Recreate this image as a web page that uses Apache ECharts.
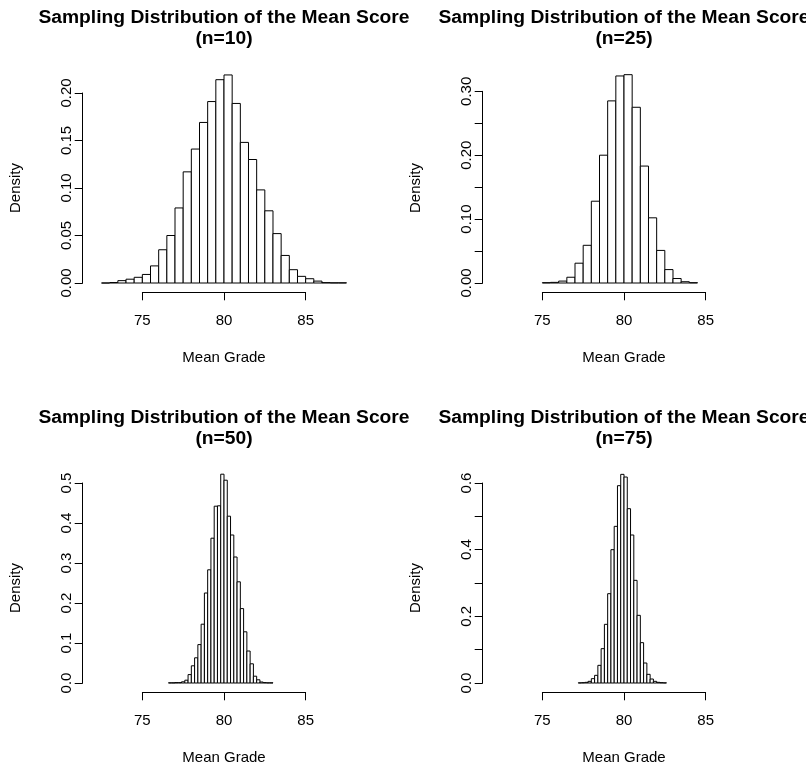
<!DOCTYPE html>
<html><head><meta charset="utf-8">
<script src="https://cdn.jsdelivr.net/npm/echarts@6/dist/echarts.min.js"></script>
<style>html,body{margin:0;padding:0;background:#fff}#c{width:806px;height:765px}</style>
</head><body><div id="c"></div>
<script>
// ---------------- data ----------------
const sampleSizes = [10, 25, 50, 75];
const binStart = [72.5, 75.0, 76.6, 77.2];
const binWidth = [0.5, 0.5, 0.2, 0.2];
const density10 = [0, 0.0005, 0.0025, 0.004, 0.006, 0.009, 0.018, 0.035, 0.050, 0.079, 0.117, 0.141, 0.169, 0.191, 0.214, 0.219, 0.189, 0.148, 0.130, 0.098, 0.076, 0.052, 0.029, 0.014, 0.007, 0.0045, 0.002, 0.0004, 0.0002, 0.0002];
const density25 = [0.0005, 0.001, 0.003, 0.009, 0.031, 0.059, 0.128, 0.200, 0.285, 0.324, 0.326, 0.275, 0.183, 0.102, 0.051, 0.021, 0.007, 0.002, 0.0005];
const density50 = [0.0005, 0.0005, 0.001, 0.001, 0.003, 0.007, 0.021, 0.043, 0.063, 0.096, 0.147, 0.225, 0.283, 0.362, 0.442, 0.443, 0.522, 0.507, 0.417, 0.370, 0.315, 0.253, 0.186, 0.128, 0.080, 0.048, 0.017, 0.008, 0.0025, 0.001, 0.0005, 0.0005];
const density75 = [0.0005, 0.001, 0.002, 0.005, 0.013, 0.023, 0.053, 0.103, 0.176, 0.268, 0.40, 0.47, 0.592, 0.626, 0.618, 0.523, 0.444, 0.308, 0.203, 0.121, 0.06, 0.026, 0.012, 0.005, 0.002, 0.001, 0.0005];
const densities = [density10, density25, density50, density75];
const xTicks = [75, 80, 85];
const yTickMax = [0.20, 0.30, 0.5, 0.6];
const yTickStep = [0.05, 0.05, 0.1, 0.1];
const yTickLabels10 = ['0.00', '0.05', '0.10', '0.15', '0.20'];
const yTickLabels25 = ['0.00', '0.10', '0.20', '0.30'];
const yTickLabels50 = ['0.0', '0.1', '0.2', '0.3', '0.4', '0.5'];
const yTickLabels75 = ['0.0', '0.2', '0.4', '0.6'];
const yTickLabels = [yTickLabels10, yTickLabels25, yTickLabels50, yTickLabels75];
const titleText = 'Sampling Distribution of the Mean Score';
const xName = 'Mean Grade';
const yName = 'Density';

// ---------------- layout ----------------
const FONT = '"Liberation Sans", Arial, Helvetica, sans-serif';
const XS = 16.33;          // px per grade unit
const X80 = 224;           // px of grade 80 in left column
const COL_DX = [0, 400, 0, 400];
const ROW_DY = [0, 0, 400, 400];
const Y0 = 283;            // px of density 0 (top row)
const AXIS_X = 82.7;       // y-axis line (left column)
const AXIS_Y = 292.3;      // x-axis line (top row)
const Y_PPU = [950, 639, 400, 333.3];
const GRID_W = 282.6;

function renderItem(params, api) {
  const x0 = api.value(0), w = api.value(1), h = api.value(2);
  const p0 = api.coord([x0, h]);
  const p1 = api.coord([x0 + w, 0]);
  return {
    type: 'rect',
    shape: { x: p0[0], y: p0[1], width: p1[0] - p0[0], height: p1[1] - p0[1] },
    style: { fill: '#ffffff', stroke: '#000000', lineWidth: 1 }
  };
}

const grids = [], xAxes = [], yAxes = [], series = [], graphics = [];
const axisLineStyle = { show: true, onZero: false, lineStyle: { color: '#000', width: 1 } };
const axisTickStyle = { show: true, length: 8, lineStyle: { color: '#000', width: 1 } };

for (let p = 0; p < 4; p++) {
  const dx = COL_DX[p], dy = ROW_DY[p];
  const ppu = Y_PPU[p], yMax = yTickMax[p];
  const labels = yTickLabels[p];
  const dec = labels[0].split('.')[1].length;
  grids.push({ left: AXIS_X + dx, top: Y0 + dy - yMax * ppu, width: GRID_W, height: yMax * ppu, containLabel: false, outerBoundsMode: 'none' });
  const xMin = 80 - (X80 - AXIS_X) / XS;
  xAxes.push({ gridIndex: 2 * p, type: 'value', min: xMin, max: xMin + GRID_W / XS, show: false });
  yAxes.push({
    gridIndex: 2 * p, type: 'value', min: 0, max: yMax, interval: yTickStep[p], position: 'left',
    axisLine: axisLineStyle, axisTick: axisTickStyle, splitLine: { show: false },
    axisLabel: {
      show: true, rotate: 90, margin: 8, fontSize: 15, fontFamily: FONT, color: '#000',
      showMinLabel: true, showMaxLabel: true,
      formatter: v => { const s = (+v).toFixed(dec); return labels.indexOf(s) >= 0 ? s : ''; }
    }
  });
  grids.push({ left: X80 + (xTicks[0] - 80) * XS + dx, width: (xTicks[2] - xTicks[0]) * XS, top: AXIS_Y + dy - 10, height: 10, containLabel: false, outerBoundsMode: 'none' });
  xAxes.push({
    gridIndex: 2 * p + 1, type: 'value', min: xTicks[0], max: xTicks[2], interval: xTicks[1] - xTicks[0], position: 'bottom',
    axisLine: axisLineStyle, axisTick: axisTickStyle, splitLine: { show: false },
    axisLabel: { show: true, margin: 21, fontSize: 15, fontFamily: FONT, color: '#000', showMinLabel: true, showMaxLabel: true }
  });
  yAxes.push({ gridIndex: 2 * p + 1, type: 'value', min: 0, max: 1, show: false });

  const data = densities[p].map((d, i) => [binStart[p] + i * binWidth[p], binWidth[p], d]);
  series.push({ type: 'custom', xAxisIndex: 2 * p, yAxisIndex: 2 * p, renderItem, data, clip: false, silent: true, animation: false });

  graphics.push({ type: 'text', x: X80 + dx, y: 18 + dy, silent: true,
    style: { text: titleText, font: 'bold 19.25px ' + FONT, textAlign: 'center', textVerticalAlign: 'middle', fill: '#000' } });
  graphics.push({ type: 'text', x: X80 + dx, y: 39 + dy, silent: true,
    style: { text: '(n=' + sampleSizes[p] + ')', font: 'bold 19.25px ' + FONT, textAlign: 'center', textVerticalAlign: 'middle', fill: '#000' } });
  graphics.push({ type: 'text', x: X80 + dx, y: 358 + dy, silent: true,
    style: { text: xName, font: '15px ' + FONT, textAlign: 'center', textVerticalAlign: 'middle', fill: '#000' } });
  graphics.push({ type: 'text', x: 16 + dx, y: 188 + dy, rotation: Math.PI / 2, silent: true,
    style: { text: yName, font: '15px ' + FONT, textAlign: 'center', textVerticalAlign: 'middle', fill: '#000' } });
}

const chart = echarts.init(document.getElementById('c'), null, { renderer: 'canvas' });
chart.setOption({
  backgroundColor: '#ffffff',
  animation: false,
  grid: grids, xAxis: xAxes, yAxis: yAxes, series: series,
  graphic: graphics
});
</script>
</body></html>
